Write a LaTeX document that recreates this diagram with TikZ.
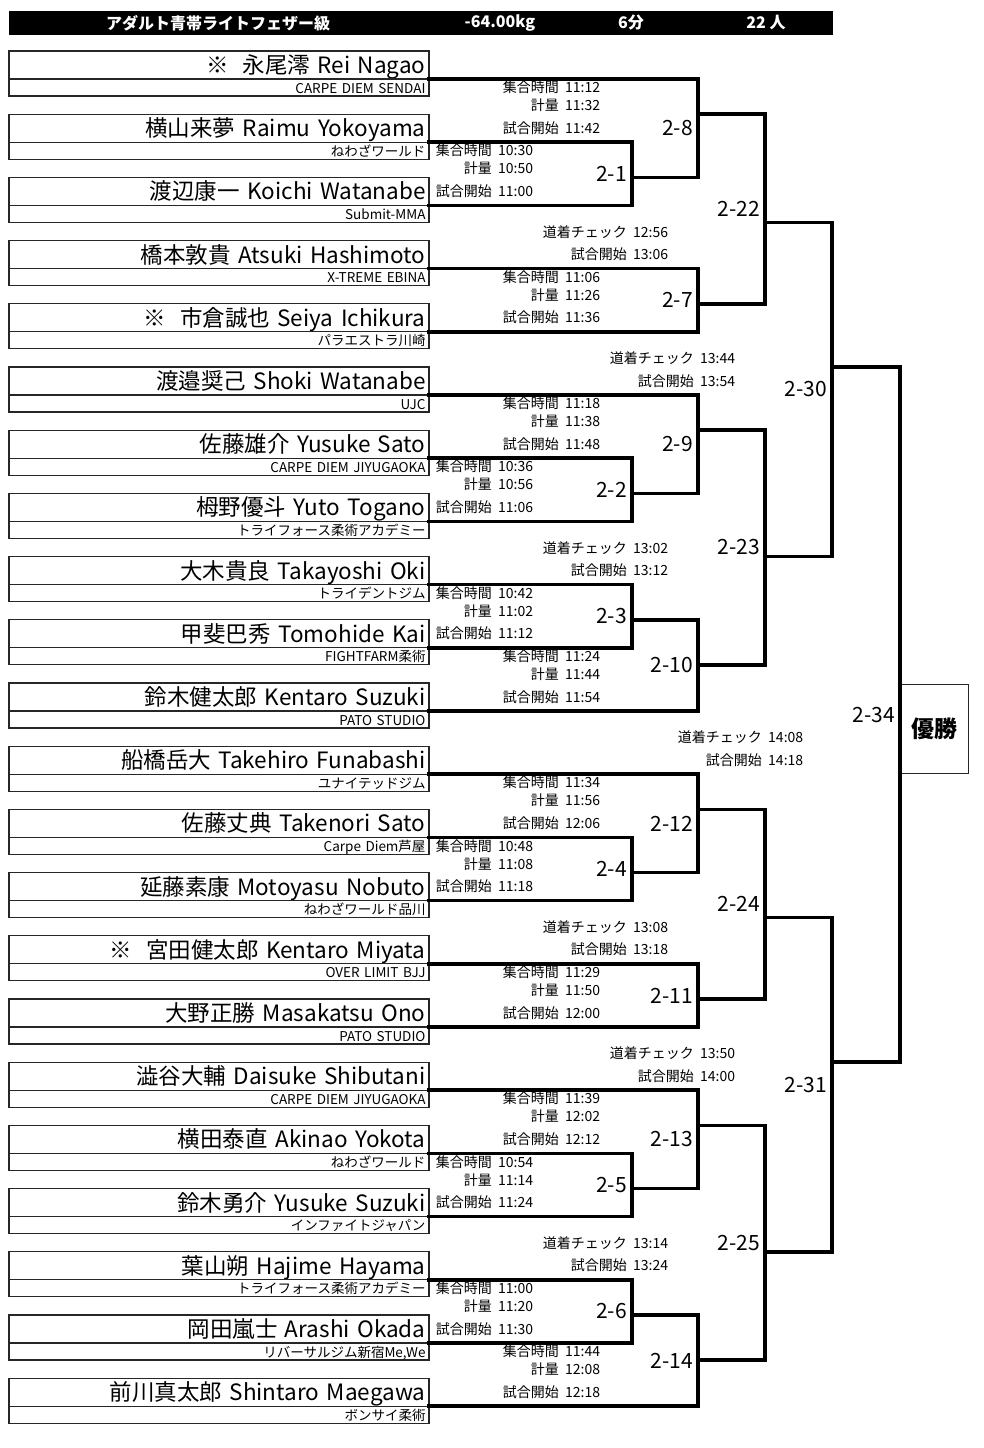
\documentclass[tikz,border=0pt]{standalone}
\usepackage{fontspec}
\setmainfont{Noto Sans CJK JP}
\newcommand\plyr[4]{%
  \node[nbox] (p#1) at (9,#2) {#3};
  \node[cbox] (c#1) at (9,#2+28) {#4};
  \coordinate (s#1) at (p#1.south east);
}
\newcommand\tmset[6]{%
  \node[tl,anchor=mid east] (#1a) at (#2,#3+11) {集合時間};
  \node[tl,anchor=mid west] (#1b) at (#2+6,#3+11) {#4};
  \node[tl,anchor=mid east] (#1c) at (#2,#3+29) {計量};
  \node[tl,anchor=mid west] (#1d) at (#2+6,#3+29) {#5};
  \node[tl,anchor=mid east] (#1e) at (#2,#3+51.5) {試合開始};
  \node[tl,anchor=mid west] (#1f) at (#2+6,#3+51.5) {#6};
}
\newcommand\chkset[5]{%
  \node[tl,anchor=mid east] (#1a) at (#2,#3+29) {道着チェック};
  \node[tl,anchor=mid west] (#1b) at (#2+6,#3+29) {#4};
  \node[tl,anchor=mid east] (#1c) at (#2,#3+51.5) {試合開始};
  \node[tl,anchor=mid west] (#1d) at (#2+6,#3+51.5) {#5};
}
\begin{document}
\begin{tikzpicture}[x=1pt,y=-1pt,
  bk/.style={line width=3.6pt, line cap=rect, line join=miter},
  nbox/.style={draw=black!85, line width=1.1pt, anchor=north west, outer sep=0pt,
    minimum height=28pt, text width=413pt, inner xsep=3.5pt, inner ysep=0pt,
    text height=19.5pt, text depth=2.5pt,
    align=right, font=\fontsize{22.5}{22.5}\selectfont},
  cbox/.style={nbox, minimum height=17pt, text height=12pt, text depth=1pt,
    font=\fontsize{13.5}{13.5}\selectfont},
  tl/.style={inner sep=0pt, font=\fontsize{14}{14}\selectfont},
  ml/.style={inner sep=0pt, anchor=east, font=\fontsize{21}{21}\selectfont},
  hd/.style={inner sep=0pt, text=white, font=\fontsize{16}{16}\selectfont\bfseries},
]
\useasboundingbox (0,0) rectangle (984,1448);
% header
\node[fill=black, anchor=north west, minimum width=824pt, minimum height=24pt, inner sep=0pt] (hdr) at (9,11) {};
\node[hd] (h1) at (218,23) {アダルト青帯ライトフェザー級};
\node[hd] (h2) at (500,23) {-64.00kg};
\node[hd] (h3) at (631,23) {6分};
\node[hd] (h4) at (766,23) {22 人};
% players
\plyr{1}{51}{※ \hspace{0.3em}永尾澪 Rei Nagao}{CARPE DIEM SENDAI}
\plyr{2}{114.2}{横山来夢 Raimu Yokoyama}{ねわざワールド}
\plyr{3}{177.4}{渡辺康一 Koichi Watanabe}{Submit-MMA}
\plyr{4}{240.6}{橋本敦貴 Atsuki Hashimoto}{X-TREME EBINA}
\plyr{5}{303.8}{※ \hspace{0.3em}市倉誠也 Seiya Ichikura}{パラエストラ川崎}
\plyr{6}{367}{渡邉奨己 Shoki Watanabe}{UJC}
\plyr{7}{430.2}{佐藤雄介 Yusuke Sato}{CARPE DIEM JIYUGAOKA}
\plyr{8}{493.4}{栂野優斗 Yuto Togano}{トライフォース柔術アカデミー}
\plyr{9}{556.6}{大木貴良 Takayoshi Oki}{トライデントジム}
\plyr{10}{619.8}{甲斐巴秀 Tomohide Kai}{FIGHTFARM柔術}
\plyr{11}{683}{鈴木健太郎 Kentaro Suzuki}{PATO STUDIO}
\plyr{12}{746.2}{船橋岳大 Takehiro Funabashi}{ユナイテッドジム}
\plyr{13}{809.4}{佐藤丈典 Takenori Sato}{Carpe Diem芦屋}
\plyr{14}{872.6}{延藤素康 Motoyasu Nobuto}{ねわざワールド品川}
\plyr{15}{935.8}{※ \hspace{0.3em}宮田健太郎 Kentaro Miyata}{OVER LIMIT BJJ}
\plyr{16}{999}{大野正勝 Masakatsu Ono}{PATO STUDIO}
\plyr{17}{1062.2}{澁谷大輔 Daisuke Shibutani}{CARPE DIEM JIYUGAOKA}
\plyr{18}{1125.4}{横田泰直 Akinao Yokota}{ねわざワールド}
\plyr{19}{1188.6}{鈴木勇介 Yusuke Suzuki}{インファイトジャパン}
\plyr{20}{1251.8}{葉山朔 Hajime Hayama}{トライフォース柔術アカデミー}
\plyr{21}{1315}{岡田嵐士 Arashi Okada}{リバーサルジム新宿Me,We}
\plyr{22}{1378.2}{前川真太郎 Shintaro Maegawa}{ボンサイ柔術}
% match points
\coordinate (m1) at (632,177.4);
\coordinate (m8) at (698,114.2);
\coordinate (m7) at (698,303.8);
\coordinate (m22) at (765,222.4);
\coordinate (m2) at (632,493.4);
\coordinate (m9) at (698,430.2);
\coordinate (m3) at (632,619.8);
\coordinate (m10) at (698,664.8);
\coordinate (m23) at (765,556.6);
\coordinate (m30) at (832,367);
\coordinate (m4) at (632,872.6);
\coordinate (m12) at (698,809.4);
\coordinate (m11) at (698,999);
\coordinate (m24) at (765,917.6);
\coordinate (m5) at (632,1188.6);
\coordinate (m13) at (698,1125.4);
\coordinate (m6) at (632,1315);
\coordinate (m14) at (698,1360);
\coordinate (m25) at (765,1251.8);
\coordinate (m31) at (832,1062.2);
\coordinate (m34) at (900,714.6);
% winner box
\node[draw=black!85, line width=1.1pt, anchor=north west, minimum width=68pt, minimum height=89pt, inner sep=0pt,
  font=\fontsize{23}{23}\selectfont\bfseries] (win) at (900,684) {優勝};
% brackets
\draw[bk] (s2) -| (m1) |- (s3);
\draw[bk] (s1) -| (m8) |- (m1);
\draw[bk] (s4) -| (m7) |- (s5);
\draw[bk] (m8) -| (m22) |- (m7);
\draw[bk] (s7) -| (m2) |- (s8);
\draw[bk] (s6) -| (m9) |- (m2);
\draw[bk] (s9) -| (m3) |- (s10);
\draw[bk] (m3) -| (m10) |- (s11);
\draw[bk] (m9) -| (m23) |- (m10);
\draw[bk] (m22) -| (m30) |- (m23);
\draw[bk] (s13) -| (m4) |- (s14);
\draw[bk] (s12) -| (m12) |- (m4);
\draw[bk] (s15) -| (m11) |- (s16);
\draw[bk] (m12) -| (m24) |- (m11);
\draw[bk] (s18) -| (m5) |- (s19);
\draw[bk] (s17) -| (m13) |- (m5);
\draw[bk] (s20) -| (m6) |- (s21);
\draw[bk] (m6) -| (m14) |- (s22);
\draw[bk] (m13) -| (m25) |- (m14);
\draw[bk] (m24) -| (m31) |- (m25);
\draw[bk] (m30) -| (m34) |- (m31);
% match labels
\node[ml] (l1) at (627,173.8) {2-1};
\node[ml] (l8) at (693,128.2) {2-8};
\node[ml] (l7) at (693,300.2) {2-7};
\node[ml] (l22) at (760,209) {2-22};
\node[ml] (l2) at (627,489.8) {2-2};
\node[ml] (l9) at (693,444.2) {2-9};
\node[ml] (l3) at (627,616.2) {2-3};
\node[ml] (l10) at (693,665.4) {2-10};
\node[ml] (l23) at (760,547.5) {2-23};
\node[ml] (l30) at (827,389.5) {2-30};
\node[ml] (l4) at (627,869) {2-4};
\node[ml] (l12) at (693,823.4) {2-12};
\node[ml] (l11) at (693,995.4) {2-11};
\node[ml] (l24) at (760,904.2) {2-24};
\node[ml] (l5) at (627,1185) {2-5};
\node[ml] (l13) at (693,1139.4) {2-13};
\node[ml] (l6) at (627,1311.4) {2-6};
\node[ml] (l14) at (693,1360.6) {2-14};
\node[ml] (l25) at (760,1242.7) {2-25};
\node[ml] (l31) at (827,1084.7) {2-31};
\node[ml] (l34) at (895,714.6) {2-34};
% times
\tmset{ta}{559}{79}{11:12}{11:32}{11:42}
\tmset{tb}{492}{142.2}{10:30}{10:50}{11:00}
\tmset{tc}{559}{268.6}{11:06}{11:26}{11:36}
\tmset{td}{559}{395}{11:18}{11:38}{11:48}
\tmset{te}{492}{458.2}{10:36}{10:56}{11:06}
\tmset{tf}{492}{584.6}{10:42}{11:02}{11:12}
\tmset{tg}{559}{647.8}{11:24}{11:44}{11:54}
\tmset{th}{559}{774.2}{11:34}{11:56}{12:06}
\tmset{ti}{492}{837.4}{10:48}{11:08}{11:18}
\tmset{tj}{559}{963.8}{11:29}{11:50}{12:00}
\tmset{tk}{559}{1090.2}{11:39}{12:02}{12:12}
\tmset{tm}{492}{1153.4}{10:54}{11:14}{11:24}
\tmset{tn}{492}{1279.8}{11:00}{11:20}{11:30}
\tmset{tp}{559}{1343}{11:44}{12:08}{12:18}
% checks
\chkset{ka}{627}{205.4}{12:56}{13:06}
\chkset{kb}{627}{521.4}{13:02}{13:12}
\chkset{kc}{627}{900.6}{13:08}{13:18}
\chkset{kd}{627}{1216.6}{13:14}{13:24}
\chkset{ke}{694}{331.8}{13:44}{13:54}
\chkset{kf}{694}{1027}{13:50}{14:00}
\chkset{kg}{762}{711}{14:08}{14:18}
\end{tikzpicture}
\end{document}
